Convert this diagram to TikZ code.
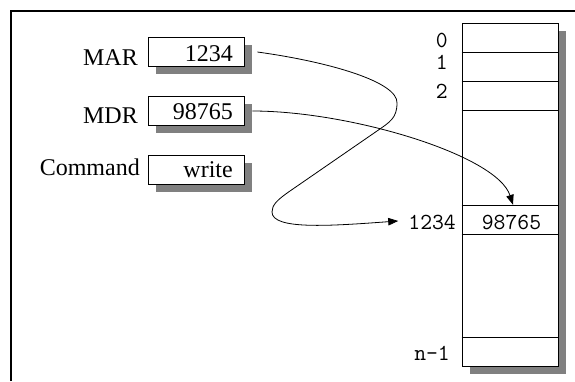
\documentclass[tikz,border=0pt]{standalone}
\usepackage{fontspec}
\setmainfont{Liberation Serif}
\usetikzlibrary{shadows,arrows.meta}

\begin{document}
\begin{tikzpicture}[x=1pt,y=-1pt,
  lbl/.style={font=\fontsize{24}{28}\selectfont, inner sep=0pt, anchor=base east},
  addr/.style={font=\ttfamily\fontsize{23}{26}\selectfont, inner sep=0pt, anchor=base east},
  boxshadow/.style={general shadow={fill=black!50, shadow xshift=7.5pt, shadow yshift=-7.5pt}},
  regbox/.style={draw, line width=0.8pt, fill=white, minimum width=96pt,
                 minimum height=29pt, inner sep=0pt, boxshadow},
  wire/.style={line width=0.8pt, -{Triangle[length=10pt,width=7.5pt]}}
]
\useasboundingbox (0,0) rectangle (575,381);
\fill[white] (0,0) rectangle (575,381);

% outer frame (left and top edges)
\draw[line width=2pt] (11,381) -- (11,11) -- (575,11);

% registers
\node[regbox] (mar) at (196,52) {};
\node[regbox] (mdr) at (196,111) {};
\node[regbox] (cmd) at (196,169.5) {};

\node[lbl] (marv) at (233,61) {1234};
\node[lbl] (mdrv) at (233,119) {98765};
\node[lbl] (cmdv) at (233,177) {write};

\node[lbl] (marl) at (138,65) {MAR};
\node[lbl] (mdrl) at (138,123) {MDR};
\node[lbl] (cmdl) at (140,175) {Command};

% memory column
\node[regbox, minimum height=343pt] (mem) at (510,194.5) {};
\foreach \y in {52,81,110,205,234,337}{
  \coordinate (h) at (0,\y);
  \draw[line width=0.8pt] (mem.west |- h) -- (mem.east |- h);
}
\node[minimum width=96pt, minimum height=29pt, inner sep=0pt] (cell) at (510,219.5) {};
\node[addr, anchor=base] (cellv) at (511.5,229) {98765};

\node[addr] (a0) at (448,47) {0};
\node[addr] (a1) at (448,69) {1};
\node[addr] (a2) at (448,98) {2};
\node[addr] (aaddr) at (456,229) {1234};
\node[addr] (an) at (450,360) {n-1};

% address path: MAR -> location 1234
\coordinate (bendR) at (397,103);
\coordinate (bendL) at (272,212);
\draw[wire] ([xshift=13pt]mar.east)
  .. controls (330,62) and (398,82) .. (bendR)
  .. controls (397,118) and (390,122) .. (377,131)
  -- (290,191)
  .. controls (277,200) and (272,205) .. (bendL)
  .. controls (272,230) and (330,226) .. ([xshift=-10pt,yshift=1pt]aaddr.west);

% data path: MDR -> memory cell
\draw[wire] ([xshift=8pt]mdr.east)
  .. controls (350,111) and (497,155) .. ([xshift=3pt]cell.north);
\end{tikzpicture}
\end{document}
